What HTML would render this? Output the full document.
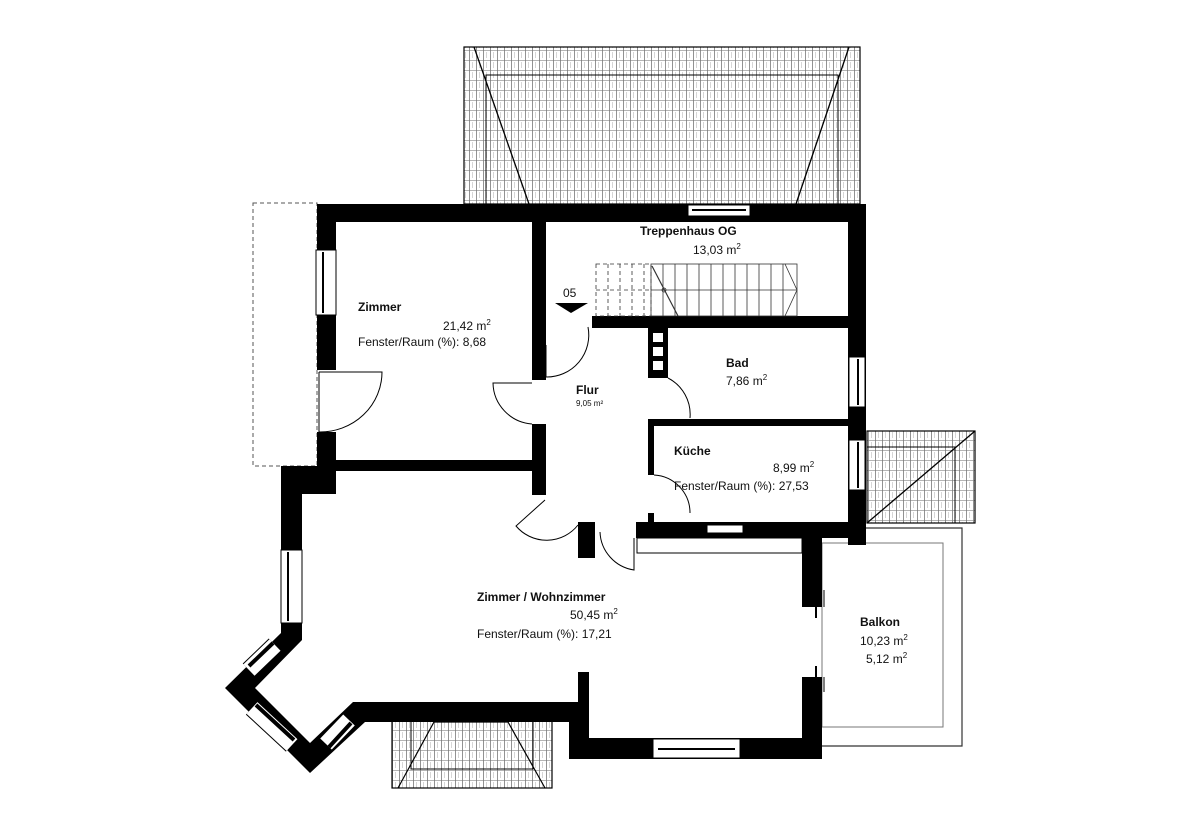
<!DOCTYPE html>
<html><head><meta charset="utf-8"><style>
html,body{margin:0;padding:0;background:#fff}
svg{display:block}
text{font-family:"Liberation Sans",Arial,sans-serif;font-size:12px;fill:#111}
.b{font-weight:bold}
</style></head><body>
<svg width="1200" height="836" viewBox="0 0 1200 836" xmlns="http://www.w3.org/2000/svg">
<defs>
<pattern id="tile" width="7" height="10" patternUnits="userSpaceOnUse">
<rect width="7" height="10" fill="#fff"/>
<line x1="0" y1="0" x2="7" y2="0" stroke="#444" stroke-width="0.8"/>
<line x1="0.5" y1="0" x2="0.5" y2="10" stroke="#777" stroke-width="0.8"/>
<line x1="3.5" y1="2" x2="3.5" y2="8" stroke="#bbb" stroke-width="0.6"/>
</pattern>
</defs>

<!-- top roof -->
<rect x="464" y="47" width="396" height="157" fill="url(#tile)" stroke="#000" stroke-width="1.2"/>
<polyline points="486,204 486,75 838,75 838,204" fill="none" stroke="#000" stroke-width="1"/>
<line x1="474" y1="47" x2="529" y2="204" stroke="#000" stroke-width="1.3"/>
<line x1="849" y1="47" x2="796" y2="204" stroke="#000" stroke-width="1.3"/>

<!-- right roof -->
<rect x="867" y="431" width="108" height="92" fill="url(#tile)" stroke="#000" stroke-width="1.2"/>
<polyline points="867,447 955,447 955,523" fill="none" stroke="#000" stroke-width="1"/>
<line x1="867" y1="523" x2="975" y2="431" stroke="#000" stroke-width="1.3"/>

<!-- bottom roof -->
<rect x="392" y="720" width="160" height="68" fill="url(#tile)" stroke="#000" stroke-width="1.2"/>
<polyline points="398,788 434,722 508,722 545,788" fill="none" stroke="#000" stroke-width="1.2"/>
<polyline points="411,720 411,769 533,769 533,720" fill="none" stroke="#000" stroke-width="1"/>

<!-- left dashed balcony -->
<rect x="253" y="203" width="64" height="263" fill="none" stroke="#555" stroke-width="1" stroke-dasharray="4,3"/>

<!-- right balcony -->
<polyline points="866,528 962,528 962,746 822,746" fill="none" stroke="#333" stroke-width="1.2"/>
<rect x="822" y="543" width="121" height="184" fill="none" stroke="#777" stroke-width="1"/>

<g fill="#000">
<rect x="317" y="204" width="549" height="18"/>
<rect x="317" y="204" width="19" height="166"/>
<rect x="317" y="432" width="19" height="62"/>
<rect x="336" y="460" width="197" height="11"/>
<rect x="281" y="466" width="55" height="28"/>
<rect x="532" y="222" width="14" height="158"/>
<rect x="532" y="424" width="14" height="71"/>
<rect x="592" y="316" width="256" height="12"/>
<rect x="648" y="328" width="20" height="50"/>
<rect x="648" y="419" width="200" height="7"/>
<rect x="648" y="419" width="6" height="56"/>
<rect x="648" y="513" width="6" height="12"/>
<rect x="848" y="204" width="18" height="341"/>
<rect x="636" y="522" width="230" height="16"/>
<rect x="802" y="525" width="20" height="82"/>
<rect x="802" y="677" width="20" height="82"/>
<rect x="569" y="738" width="253" height="21"/>
<rect x="569" y="702" width="20" height="57"/>
<rect x="578" y="672" width="11" height="40"/>
<rect x="353" y="702" width="236" height="20"/>
<rect x="578" y="522" width="17" height="36"/>
<rect x="281" y="466" width="21" height="160"/>
<!-- bay -->
<polygon points="281,620 281,633 225,688 310,773 365,722 365,702 353,702 310,743 255,688 302,640 302,620"/>
</g>

<!-- white squares in Flur/Bad wall -->
<g fill="#fff"><rect x="653" y="333" width="10" height="9"/><rect x="653" y="347" width="10" height="9"/><rect x="653" y="361" width="10" height="9"/></g>

<!-- windows -->
<g fill="#fff" stroke="#000" stroke-width="1">
<rect x="688" y="205" width="62" height="11"/>
<rect x="316" y="250" width="20" height="65"/>
<rect x="281" y="550" width="21" height="73"/>
<rect x="849" y="357" width="16" height="50"/>
<rect x="849" y="440" width="16" height="50"/>
<rect x="653" y="739" width="87" height="19"/>
<rect x="707" y="525" width="36" height="8"/>
<rect x="637" y="538" width="165" height="15"/>
</g>
<g stroke="#000" stroke-width="2">
<line x1="323" y1="252" x2="323" y2="313"/><line x1="288" y1="552" x2="288" y2="621"/>
<line x1="858" y1="359" x2="858" y2="405"/><line x1="858" y1="442" x2="858" y2="488"/>
<line x1="658" y1="749" x2="735" y2="749"/><line x1="692" y1="210" x2="746" y2="210"/>
</g>
<!-- bay windows -->
<g fill="none" stroke-linecap="butt">
<g stroke="#000" stroke-width="18">
<line x1="249" y1="670" x2="275" y2="645"/>
<line x1="252" y1="708" x2="292" y2="745"/>
<line x1="326" y1="744" x2="349" y2="720"/>
</g>
<g stroke="#fff" stroke-width="16">
<line x1="249" y1="670" x2="275" y2="645"/>
<line x1="252" y1="708" x2="292" y2="745"/>
<line x1="326" y1="744" x2="349" y2="720"/>
</g>
<g stroke="#000" stroke-width="4">
<line x1="249" y1="666" x2="273" y2="643"/>
<line x1="256" y1="705" x2="294" y2="740"/>
<line x1="329" y1="747" x2="351" y2="723"/>
</g>
</g>

<!-- stairs -->
<g fill="none" stroke="#333" stroke-width="0.8">
<g stroke-dasharray="4,3">
<rect x="596" y="264" width="55" height="52"/>
<line x1="596" y1="290" x2="651" y2="290"/>
<line x1="608" y1="264" x2="608" y2="316"/><line x1="620" y1="264" x2="620" y2="316"/><line x1="632" y1="264" x2="632" y2="316"/><line x1="644" y1="264" x2="644" y2="316"/>
</g>
<rect x="651" y="264" width="146" height="52"/>
<line x1="651" y1="290" x2="797" y2="290"/>
<path d="M663,264V316M675,264V316M687,264V316M699,264V316M711,264V316M723,264V316M735,264V316M747,264V316M759,264V316M771,264V316M783,264V316"/>
<line x1="652" y1="266" x2="678" y2="316" stroke-width="1.2"/>
<circle cx="664" cy="290" r="2"/>
<polyline points="785,264 797,290 785,316"/>
</g>

<!-- doors -->
<g fill="none" stroke="#000" stroke-width="1">
<path d="M319,372 V432 M319,372 H382 A62,60 0 0 1 319,432"/>
<path d="M532,424 A42,42 0 0 1 493,383 L532,383"/>
<path d="M546,345 V377 A42,42 0 0 0 588,327"/>
<path d="M668,378 A41,41 0 0 1 690,418"/>
<path d="M654,475 A38,38 0 0 1 690,513"/>
<path d="M545,500 L516,526 A40,40 0 0 0 578,525"/>
<path d="M600,532 A40,40 0 0 0 634,570 V538"/>
<path d="M824,590 V607 M824,677 V692"/>
</g>
<line x1="816" y1="607" x2="816" y2="618" stroke="#000" stroke-width="2"/>
<line x1="816" y1="666" x2="816" y2="677" stroke="#000" stroke-width="2"/>

<text x="563" y="297">05</text>
<polygon points="555,303 588,303 571,313" fill="#000"/>

<text x="640" y="235" class="b">Treppenhaus OG</text>
<text x="693" y="254">13,03 m<tspan font-size="8" dy="-5">2</tspan></text>
<text x="358" y="311" class="b">Zimmer</text>
<text x="443" y="330">21,42 m<tspan font-size="8" dy="-5">2</tspan></text>
<text x="358" y="346">Fenster/Raum (%): 8,68</text>
<text x="576" y="394" class="b">Flur</text>
<text x="576" y="406" style="font-size:8px">9,05 m²</text>
<text x="726" y="367" class="b">Bad</text>
<text x="726" y="385">7,86 m<tspan font-size="8" dy="-5">2</tspan></text>
<text x="674" y="455" class="b">Küche</text>
<text x="773" y="472">8,99 m<tspan font-size="8" dy="-5">2</tspan></text>
<text x="674" y="490">Fenster/Raum (%): 27,53</text>
<text x="477" y="601" class="b">Zimmer / Wohnzimmer</text>
<text x="570" y="619">50,45 m<tspan font-size="8" dy="-5">2</tspan></text>
<text x="477" y="638">Fenster/Raum (%): 17,21</text>
<text x="860" y="626" class="b">Balkon</text>
<text x="860" y="645">10,23 m<tspan font-size="8" dy="-5">2</tspan></text>
<text x="866" y="663">5,12 m<tspan font-size="8" dy="-5">2</tspan></text>
</svg>
</body></html>
